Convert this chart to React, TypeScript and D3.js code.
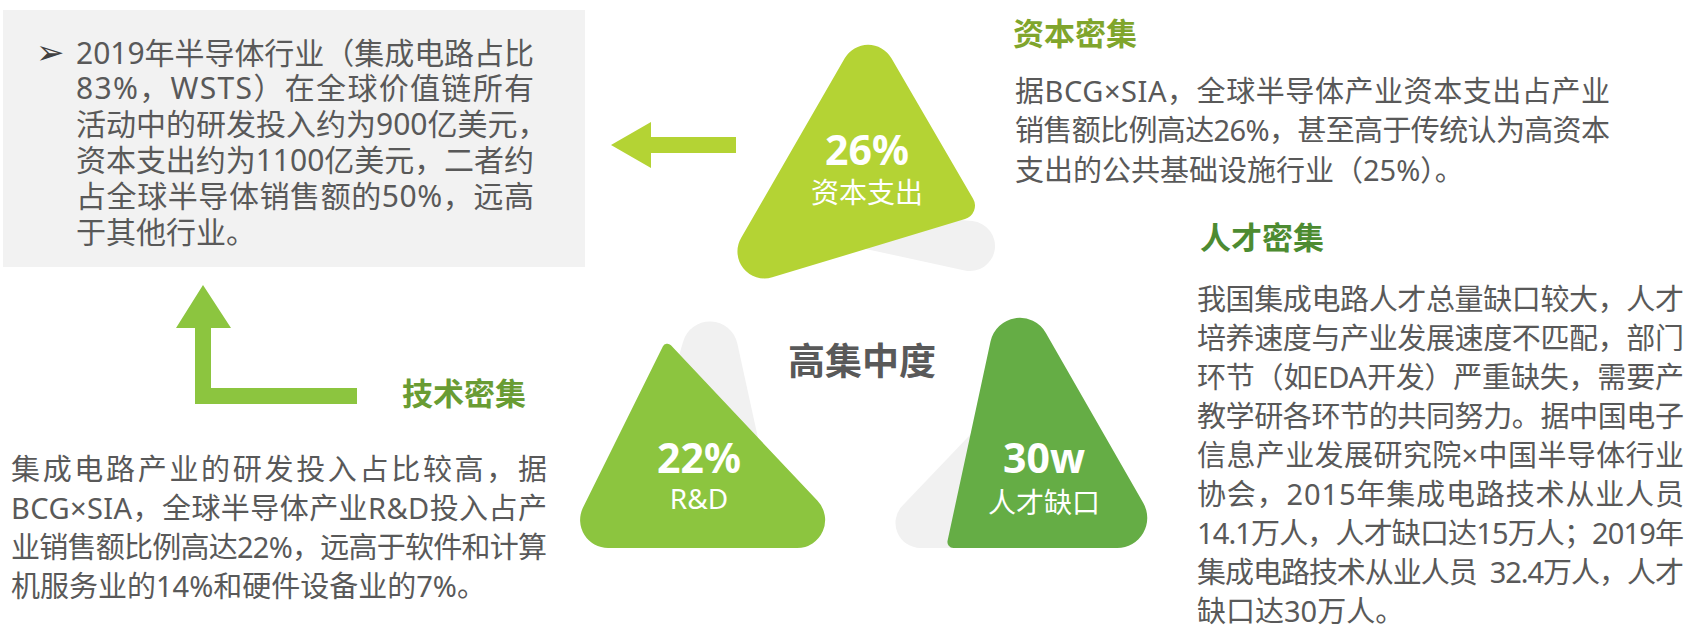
import React from 'react';
import * as d3 from 'd3';

// ---- content ----
const boxLines = [
  '2019年半导体行业（集成电路占比',
  '83%，WSTS）在全球价值链所有',
  '活动中的研发投入约为900亿美元，',
  '资本支出约为1100亿美元，二者约',
  '占全球半导体销售额的50%，远高',
  '于其他行业。',
];
const boxJustify = [true, true, false, true, true, false];

const capitalTitle = '资本密集';
const capitalLines = [
  '据BCG×SIA，全球半导体产业资本支出占产业',
  '销售额比例高达26%，甚至高于传统认为高资本',
  '支出的公共基础设施行业（25%）。',
];

const talentTitle = '人才密集';
const talentLines = [
  '我国集成电路人才总量缺口较大，人才',
  '培养速度与产业发展速度不匹配，部门',
  '环节（如EDA开发）严重缺失，需要产',
  '教学研各环节的共同努力。据中国电子',
  '信息产业发展研究院×中国半导体行业',
  '协会，2015年集成电路技术从业人员',
  '14.1万人，人才缺口达15万人；2019年',
  '集成电路技术从业人员  32.4万人，人才',
  '缺口达30万人。',
];

const techTitle = '技术密集';
const techLines = [
  '集成电路产业的研发投入占比较高，据',
  'BCG×SIA，全球半导体产业R&D投入占产',
  '业销售额比例高达22%，远高于软件和计算',
  '机服务业的14%和硬件设备业的7%。',
];

const centerTitle = '高集中度';
const metricValues = ['26%', '22%', '30w'];
const metricLabels = ['资本支出', 'R&D', '人才缺口'];

// ---- look ----
const FONT = '"Noto Sans", "Noto Sans CJK SC", sans-serif';
const TEXT = '#595959';
const GREY = '#f1f1f1';
const metricColors = ['#b4d334', '#8cc53f', '#65ad45'];
const titleColors = { capital: '#80a52c', talent: '#4d8b31', tech: '#699c33' };

type Pt = [number, number];

function roundedPath(pts: Pt[], r: number[]) {
  const p = d3.path();
  const n = pts.length;
  p.moveTo((pts[n - 1][0] + pts[0][0]) / 2, (pts[n - 1][1] + pts[0][1]) / 2);
  for (let i = 0; i < n; i++) {
    const cur = pts[i];
    const next = pts[(i + 1) % n];
    p.arcTo(cur[0], cur[1], (cur[0] + next[0]) / 2, (cur[1] + next[1]) / 2, r[i]);
  }
  p.closePath();
  return p.toString();
}

// tongue-shaped fold: a band that ends in a round cap
function tonguePath(c: Pt, r: number) {
  const p = d3.path();
  const bot: Pt = [c[0] - 0.212 * r, c[1] + 0.977 * r];
  p.moveTo(860, bot[1] - 0.217 * (bot[0] - 860));
  p.lineTo(bot[0], bot[1]);
  p.arc(c[0], c[1], r, Math.atan2(0.977, -0.212), Math.atan2(-0.995, 0.0995), true);
  p.lineTo(870, 212);
  p.closePath();
  return p.toString();
}

// folded rounded triangles: green face + grey flap behind
const shapes: { face: Pt[]; faceR: number[]; flap: string }[] = [
  {
    face: [[868, 18], [982, 214], [707, 297]],
    faceR: [27, 14, 27],
    flap: tonguePath([970, 246], 25),
  },
  {
    face: [[666, 340], [862, 548], [563, 548]],
    faceR: [5, 28, 28],
    flap: roundedPath([[714, 237], [765, 470], [660, 420]], [28, 5, 5]),
  },
  {
    face: [[1007, 265], [1169, 548], [946, 548]],
    faceR: [30, 30, 6],
    flap: roundedPath([[992, 412], [1000, 548], [862, 548]], [5, 5, 25]),
  },
];

const labelPos = [
  { x: 867, vy: 165, ly: 203 },
  { x: 699, vy: 473, ly: 509 },
  { x: 1044, vy: 473, ly: 513 },
];

const leftArrow: Pt[] = [[611, 145], [651, 122], [651, 137], [736, 137], [736, 153], [651, 153], [651, 168]];
const upArrow: Pt[] = [[203, 285], [231, 328], [211, 328], [211, 388], [357, 388], [357, 404], [195, 404], [195, 328], [176, 328]];

const poly = (pts: Pt[]) => 'M' + pts.map(d => d.join(',')).join('L') + 'Z';

interface BlockProps {
  lines: string[];
  x: number;
  y0: number;
  step: number;
  size: number;
  width: number;
  justify: (i: number) => boolean;
}

const Block: React.FC<BlockProps> = ({ lines, x, y0, step, size, width, justify }) => (
  <g fontSize={size} fill={TEXT}>
    {lines.map((t, i) => (
      <text
        key={i}
        x={x}
        y={y0 + i * step}
        dominantBaseline="central"
        style={{ whiteSpace: 'pre' }}
        {...(justify(i) ? { textLength: width, lengthAdjust: 'spacing' } : {})}
      >
        {t}
      </text>
    ))}
  </g>
);

export default function App() {
  return (
    <svg
      width={1700}
      height={628}
      style={{ position: 'absolute', left: 0, top: 0, background: '#fff' }}
      fontFamily={FONT}
    >
      {/* summary box */}
      <rect x={3} y={10} width={582} height={257} fill="#f2f2f2" />
      <text x={36} y={52} fontSize={34} fontFamily="DejaVu Sans" fill="#404040" dominantBaseline="central">➢</text>
      <Block lines={boxLines} x={76} y0={52} step={35.8} size={30} width={458} justify={i => boxJustify[i]} />

      {/* arrows */}
      <path d={poly(leftArrow)} fill={metricColors[0]} />
      <path d={poly(upArrow)} fill={metricColors[1]} />

      {/* folded triangles */}
      {shapes.map((s, i) => (
        <g key={i}>
          <path d={s.flap} fill={GREY} />
          <path d={roundedPath(s.face, s.faceR)} fill={metricColors[i]} />
          <text x={labelPos[i].x} y={labelPos[i].vy} textAnchor="middle" fontSize={41} fontWeight="bold" fill="#fff">
            {metricValues[i]}
          </text>
          <text x={labelPos[i].x} y={labelPos[i].ly} textAnchor="middle" fontSize={28} fill="#fff">
            {metricLabels[i]}
          </text>
        </g>
      ))}

      <text x={862} y={360} textAnchor="middle" dominantBaseline="central" fontSize={37} fontWeight="bold" fill={TEXT}>
        {centerTitle}
      </text>

      {/* capital */}
      <text x={1013} y={33} dominantBaseline="central" fontSize={31} fontWeight="bold" fill={titleColors.capital}>
        {capitalTitle}
      </text>
      <Block lines={capitalLines} x={1015} y0={90} step={39.5} size={29} width={595} justify={i => i < capitalLines.length - 1} />

      {/* talent */}
      <text x={1200} y={237} dominantBaseline="central" fontSize={31} fontWeight="bold" fill={titleColors.talent}>
        {talentTitle}
      </text>
      <Block lines={talentLines} x={1197} y0={298} step={39} size={29} width={487} justify={i => i < talentLines.length - 1} />

      {/* technology */}
      <text x={402} y={393} dominantBaseline="central" fontSize={31} fontWeight="bold" fill={titleColors.tech}>
        {techTitle}
      </text>
      <Block lines={techLines} x={11} y0={468} step={39} size={29} width={536} justify={i => i < techLines.length - 1} />
    </svg>
  );
}
